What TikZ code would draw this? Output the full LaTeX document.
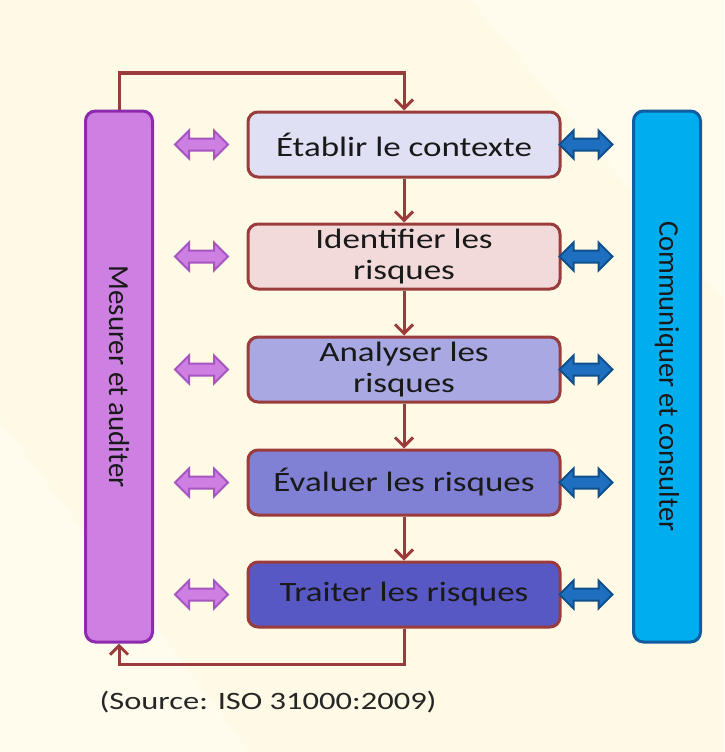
\documentclass[tikz,border=0pt]{standalone}
\usepackage{fontspec}
\setmainfont{Carlito}
\newfontfamily\wide[FakeStretch=1.25]{Carlito}
\newfontfamily\widesrc[FakeStretch=1.3]{Carlito}
\usetikzlibrary{arrows.meta,shapes.arrows}
\definecolor{bg}{RGB}{254,250,230}
\definecolor{bgl}{RGB}{255,252,238}
\definecolor{brd}{RGB}{155,60,60}
\definecolor{purf}{RGB}{206,128,226}
\definecolor{purd}{RGB}{142,42,176}
\definecolor{bluf}{RGB}{0,174,239}
\definecolor{blud}{RGB}{16,92,160}
\definecolor{barf}{RGB}{31,111,192}
\definecolor{bard}{RGB}{15,80,140}
\definecolor{c1}{RGB}{224,224,245}
\definecolor{c2}{RGB}{242,218,218}
\definecolor{c3}{RGB}{168,168,226}
\definecolor{c4}{RGB}{128,128,212}
\definecolor{c5}{RGB}{88,88,196}
\tikzset{
  stepbox/.style={draw=brd, line width=3pt, rounded corners=10pt, minimum width=312pt, minimum height=65pt, align=center, font=\wide\fontsize{28}{31}\selectfont, text=black!90, inner sep=2pt},
  sidebar/.style={line width=3pt, rounded corners=10pt, minimum width=67pt, minimum height=531pt, inner sep=0pt},
  sidetext/.style={rotate=-90, text=black!90},
  flow/.style={draw=brd, line width=3pt, -{Straight Barb[length=9pt,width=18pt,line width=3pt]}},
  dbl/.style={double arrow, minimum height=53pt, minimum width=26pt, inner sep=5pt, double arrow head extend=8pt, line width=2pt},
  pdbl/.style={dbl, fill=purf, draw=purd!80},
  bdbl/.style={dbl, fill=barf, draw=bard},
}
\begin{document}
\begin{tikzpicture}[x=1pt,y=-1pt]
\fill[bg] (0,0) rectangle (724,752);
\fill[bgl] (470,0) -- (724,0) -- (724,300) -- cycle;
\fill[bgl] (0,420) -- (0,752) -- (250,752) -- cycle;
\useasboundingbox (0,0) rectangle (724,752);

\node[sidebar, fill=purf, draw=purd] (mes) at (119,376.5) {};
\node[sidetext, font=\fontsize{29}{32}\selectfont] (mest) at (mes.center) {Mesurer et auditer};
\node[sidebar, fill=bluf, draw=blud] (com) at (667,376.5) {};
\node[sidetext, font=\fontsize{28.5}{32}\selectfont] (comt) at (com.center) {Communiquer et consulter};

\node[stepbox, fill=c1] (b1) at (404,144.5) {Établir le contexte};
\node[stepbox, fill=c2] (b2) at (404,256.5) {Identifier les\\risques};
\node[stepbox, fill=c3] (b3) at (404,369.5) {Analyser les\\risques};
\node[stepbox, fill=c4] (b4) at (404,482.5) {Évaluer les risques};
\node[stepbox, fill=c5] (b5) at (404,594.5) {Traiter les risques};

\draw[flow] (b1) -- (b2);
\draw[flow] (b2) -- (b3);
\draw[flow] (b3) -- (b4);
\draw[flow] (b4) -- (b5);

\coordinate (tl) at (119,73);
\coordinate (bl) at (119,664);
\draw[flow] (mes.north) -- (tl) -| (b1.north);
\draw[flow] (b5.south) |- (bl) -- (mes.south);

\foreach \b in {1,...,5}{
  \node[pdbl] (p\b) at (201.5, 0 |- b\b.center) {};
  \node[bdbl] (q\b) at (586, 0 |- b\b.center) {};
}

\node[anchor=west, font=\widesrc\fontsize{25}{28}\selectfont, text=black!85] (src) at (96,702) {(Source: ISO 31000:2009)};
\end{tikzpicture}
\end{document}
